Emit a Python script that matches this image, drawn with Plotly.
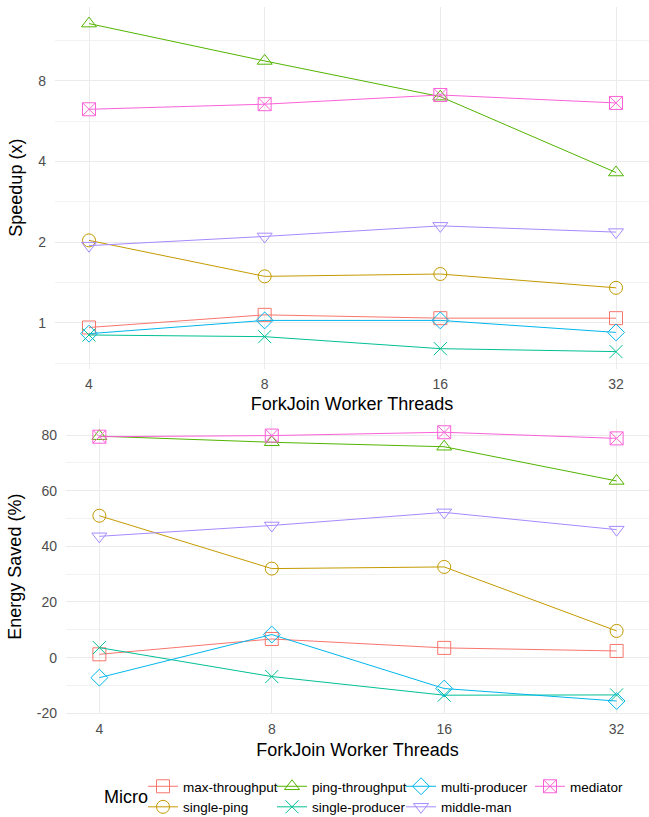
import plotly.graph_objects as go

# ---------------- data ----------------
threads = [4, 8, 16, 32]
thread_labels = ["4", "8", "16", "32"]

micro = ["max-throughput", "single-ping", "ping-throughput", "single-producer",
         "multi-producer", "middle-man", "mediator"]

# Speedup (x)
speedup_max_throughput = [0.96, 1.07, 1.04, 1.04]
speedup_single_ping = [2.03, 1.49, 1.52, 1.35]
speedup_ping_throughput = [13.1, 9.5, 6.99, 3.64]
speedup_single_producer = [0.90, 0.887, 0.80, 0.78]
speedup_multi_producer = [0.91, 1.02, 1.02, 0.92]
speedup_middle_man = [1.94, 2.10, 2.30, 2.18]
speedup_mediator = [6.27, 6.55, 7.09, 6.62]

# Energy saved (%)
energy_max_throughput = [1.2, 6.7, 3.5, 2.4]
energy_single_ping = [51.0, 32.0, 32.6, 9.6]
energy_ping_throughput = [79.6, 77.4, 75.8, 63.5]
energy_single_producer = [3.6, -6.8, -13.5, -13.4]
energy_multi_producer = [-7.2, 8.3, -11.1, -15.6]
energy_middle_man = [43.6, 47.5, 52.2, 46.0]
energy_mediator = [79.4, 79.8, 81.0, 78.8]

speedup_ticks = [1, 2, 4, 8]
speedup_minor = [0.7071, 1.4142, 2.8284, 5.6569, 11.3137]
energy_ticks = [-20, 0, 20, 40, 60, 80]
energy_minor = [-10, 10, 30, 50, 70]

# ---------------- style ----------------
colors = ["#F8766D", "#C49A00", "#53B400", "#00C094", "#00B6EB", "#A58AFF", "#FB61D7"]
symbols = ["square-open", "circle-open", "triangle-up-open", "x-thin-open",
           "diamond-open", "triangle-down-open", "square-x-open"]
legend_rank = [1, 5, 2, 6, 3, 7, 4]

speedup = [speedup_max_throughput, speedup_single_ping, speedup_ping_throughput,
           speedup_single_producer, speedup_multi_producer, speedup_middle_man,
           speedup_mediator]
energy = [energy_max_throughput, energy_single_ping, energy_ping_throughput,
          energy_single_producer, energy_multi_producer, energy_middle_man,
          energy_mediator]

W, H = 649, 817
ML = 10  # left margin (px); only axis titles live there
PW = W - ML
FONT = "Liberation Sans, Arial, sans-serif"
GRID = "#EBEBEB"
MINOR = "#F2F2F2"
TICKC = "#4D4D4D"

fig = go.Figure()
for i, name in enumerate(micro):
    for ys, xa, ya, show in [(speedup[i], "x", "y", True), (energy[i], "x2", "y2", False)]:
        fig.add_trace(go.Scatter(
            x=threads, y=ys, xaxis=xa, yaxis=ya, name=name,
            mode="lines+markers", legendgroup=name, showlegend=show,
            legendrank=legend_rank[i],
            line=dict(color=colors[i], width=1),
            marker=dict(symbol=symbols[i], size=13, color=colors[i],
                        line=dict(color=colors[i], width=1)),
        ))


def px_x(p):
    return (p - ML) / PW


def px_y(p):
    return 1 - p / H


xrange_log = [0.5438, 1.5617]
common_x = dict(type="log", range=xrange_log, tickvals=threads, ticktext=thread_labels,
                showgrid=True, gridcolor=GRID, gridwidth=1, zeroline=False,
                showline=False, ticks="", ticklabelstandoff=5,
                tickfont=dict(size=14, color=TICKC, family=FONT))

fig.update_layout(
    width=W, height=H,
    margin=dict(l=ML, r=0, t=0, b=0, autoexpand=False),
    paper_bgcolor="white", plot_bgcolor="white",
    font=dict(family=FONT, color="black"),
    xaxis=dict(domain=[px_x(55), 1], anchor="y",
               title=dict(text="ForkJoin Worker Threads", font=dict(size=18, color="black"), standoff=6),
               **common_x),
    yaxis=dict(domain=[px_y(368.5), px_y(6.8)], anchor="x", type="log",
               range=[-0.171, 1.180], tickvals=speedup_ticks,
               ticktext=[str(v) for v in speedup_ticks],
               showgrid=True, gridcolor=GRID, gridwidth=1, zeroline=False,
               minor=dict(tickvals=speedup_minor, showgrid=True, gridcolor=MINOR, gridwidth=1, ticks=""),
               ticks="", ticklabelstandoff=8,
               tickfont=dict(size=14, color=TICKC, family=FONT),
               title=dict(text="Speedup (x)", font=dict(size=18, color="black"), standoff=10)),
    xaxis2=dict(domain=[px_x(66), 1], anchor="y2",
                title=dict(text="ForkJoin Worker Threads", font=dict(size=18, color="black"), standoff=6),
                **common_x),
    yaxis2=dict(domain=[px_y(714.4), px_y(418.9)], anchor="x2",
                range=[-20.4, 85.8], tickvals=energy_ticks,
                ticktext=[str(v) for v in energy_ticks],
                showgrid=True, gridcolor=GRID, gridwidth=1, zeroline=False,
                minor=dict(tickvals=energy_minor, showgrid=True, gridcolor=MINOR, gridwidth=1, ticks=""),
                ticks="", ticklabelstandoff=8,
                tickfont=dict(size=14, color=TICKC, family=FONT),
                title=dict(text="Energy Saved (%)", font=dict(size=18, color="black"), standoff=10)),
    legend=dict(orientation="h", x=px_x(143), xanchor="left", y=px_y(771), yanchor="top",
                entrywidth=84, entrywidthmode="pixels", itemwidth=30,
                font=dict(size=13.5, color="black", family=FONT),
                bgcolor="rgba(0,0,0,0)", tracegroupgap=0),
    annotations=[dict(text="Micro", x=px_x(102), y=px_y(797), xref="paper", yref="paper",
                      xanchor="left", yanchor="middle", showarrow=False,
                      font=dict(size=18, color="black", family=FONT))],
)

fig.write_html("out.html", config={"displayModeBar": False},
               post_script="document.body.style.margin='0px';document.body.style.overflow='hidden';")
